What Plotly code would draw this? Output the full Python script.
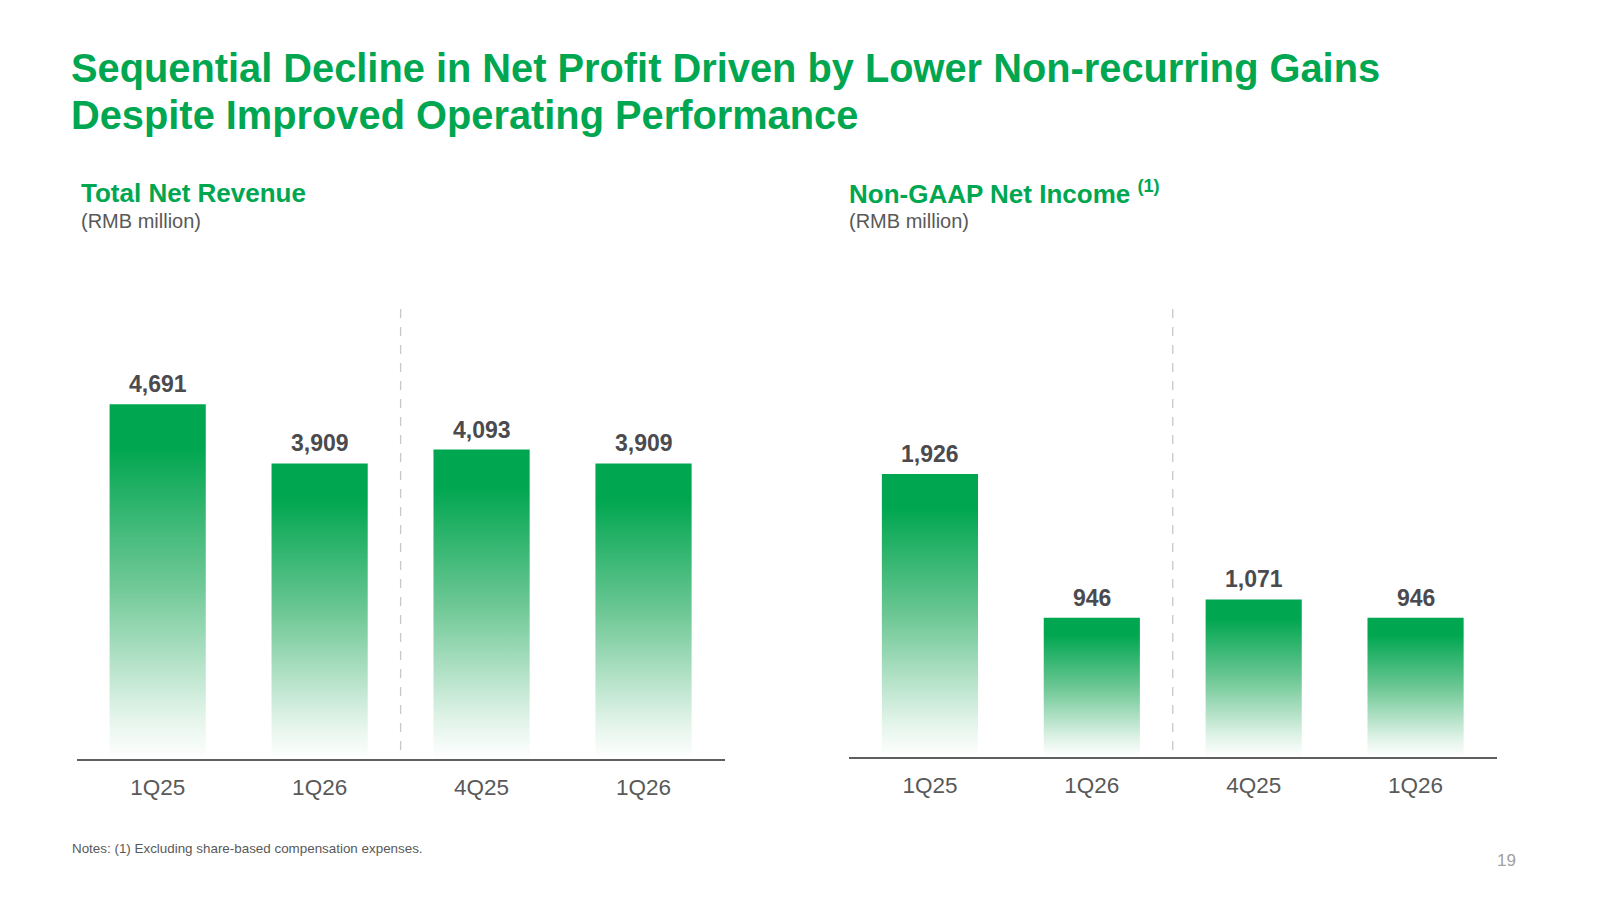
import plotly.graph_objects as go

# ---- data ----
categories = ["1Q25", "1Q26", "4Q25", "1Q26"]
revenue = [4691, 3909, 4093, 3909]
net_income = [1926, 946, 1071, 946]

title_line1 = "Sequential Decline in Net Profit Driven by Lower Non-recurring Gains"
title_line2 = "Despite Improved Operating Performance"
left_title = "Total Net Revenue"
right_title = "Non-GAAP Net Income <sup>(1)</sup>"
unit_text = "(RMB million)"
note_text = "Notes: (1) Excluding share-based compensation expenses."
page_no = "19"

GREEN = "#00A650"
FONT = "Arial, Liberation Sans, sans-serif"
LABEL_GRAY = "#4a4a4f"
TICK_GRAY = "#595959"
BAR_HALF = 0.297

gradient = [[0.0, "#ffffff"], [0.12, "#e3f4ea"], [0.5, "#6cc794"],
            [0.88, "#00a650"], [1.0, "#00a650"]]

fig = go.Figure()


def add_bars(values, xa, ya):
    for i, v in enumerate(values):
        xs = [i - BAR_HALF, i - BAR_HALF, i + BAR_HALF, i + BAR_HALF, i - BAR_HALF]
        ys = [0, v, v, 0, 0]
        fig.add_trace(go.Scatter(
            x=xs, y=ys, xaxis=xa, yaxis=ya, mode="lines", fill="toself",
            line=dict(width=0, color=GREEN),
            fillgradient=dict(type="vertical", colorscale=gradient),
            hoverinfo="text", hoveron="fills",
            text=f"{categories[i]}: {v:,}", showlegend=False))
        fig.add_annotation(
            x=i, y=v, xref=xa, yref=ya, text=f"{v:,}", showarrow=False,
            yanchor="bottom", yshift=5,
            font=dict(family=FONT, size=23, color=LABEL_GRAY, weight="bold"))


add_bars(revenue, "x", "y")
add_bars(net_income, "x2", "y2")

axis_common = dict(
    tickmode="array", tickvals=list(range(len(categories))), ticktext=categories,
    range=[-0.5, len(categories) - 0.5], showgrid=False, zeroline=False,
    showline=True, linecolor="#5f5f5f", linewidth=2, ticks="",
    ticklabelstandoff=7,
    tickfont=dict(family=FONT, size=22.5, color=TICK_GRAY), fixedrange=True)

fig.update_layout(
    width=1600, height=900, margin=dict(l=0, r=0, t=0, b=0),
    paper_bgcolor="white", plot_bgcolor="white", showlegend=False,
    xaxis=dict(domain=[76.7 / 1600, 724.5 / 1600], anchor="y", **axis_common),
    xaxis2=dict(domain=[849 / 1600, 1496.5 / 1600], anchor="y2", **axis_common),
    yaxis=dict(domain=[1 - 759 / 900, 1 - 300 / 900], range=[0, 6071],
               visible=False, fixedrange=True),
    yaxis2=dict(domain=[1 - 756.7 / 900, 1 - 300 / 900], range=[0, 3111],
                visible=False, fixedrange=True),
)

# dashed separators between the YoY and QoQ groups
for xr in ["x", "x2"]:
    fig.add_shape(type="line", xref=xr, yref="paper", x0=1.5, x1=1.5,
                  y0=1 - 750 / 900, y1=1 - 302 / 900,
                  line=dict(color="#c8c8c8", width=1.3, dash="dash"))

# titles and texts
fig.add_annotation(x=69 / 1600, y=1 - 68 / 900, xref="paper", yref="paper",
                   text=title_line1, showarrow=False, xanchor="left", yanchor="middle",
                   font=dict(family=FONT, size=39.8, color=GREEN, weight="bold"))
fig.add_annotation(x=69 / 1600, y=1 - 115 / 900, xref="paper", yref="paper",
                   text=title_line2, showarrow=False, xanchor="left", yanchor="middle",
                   font=dict(family=FONT, size=39.8, color=GREEN, weight="bold"))

for xpos, ttl, ty in [(78.6, left_title, 193), (847, right_title, 192)]:
    fig.add_annotation(x=xpos / 1600, y=1 - ty / 900, xref="paper", yref="paper",
                       text=ttl, showarrow=False, xanchor="left", yanchor="middle",
                       font=dict(family=FONT, size=26, color=GREEN, weight="bold"))
    fig.add_annotation(x=xpos / 1600, y=1 - 220.5 / 900, xref="paper", yref="paper",
                       text=unit_text, showarrow=False, xanchor="left", yanchor="middle",
                       font=dict(family=FONT, size=20, color="#595959"))

fig.add_annotation(x=70 / 1600, y=1 - 848 / 900, xref="paper", yref="paper",
                   text=note_text, showarrow=False, xanchor="left", yanchor="middle",
                   font=dict(family=FONT, size=13.4, color="#595959"))
fig.add_annotation(x=1506 / 1600, y=1 - 860 / 900, xref="paper", yref="paper",
                   text=page_no, showarrow=False, xanchor="center", yanchor="middle",
                   font=dict(family=FONT, size=17, color="#a0a0a0"))

fig.write_html("out.html")
